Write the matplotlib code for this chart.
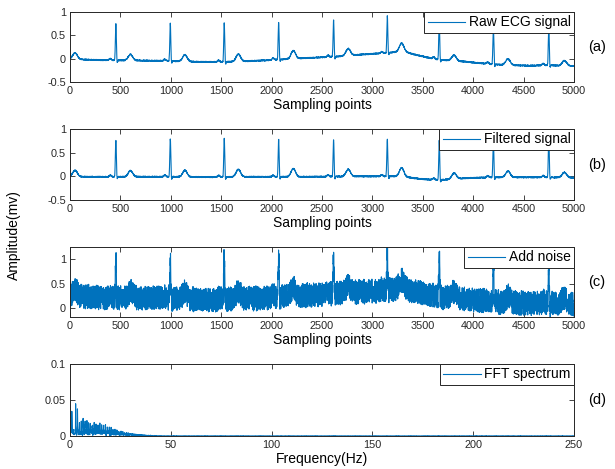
import numpy as np
import matplotlib
matplotlib.use("Agg")
import matplotlib.pyplot as plt
from matplotlib.ticker import FormatStrFormatter

plt.rcParams['font.family'] = ['Liberation Sans', 'DejaVu Sans']
plt.rcParams['axes.unicode_minus'] = False

# ---------------- data ----------------
fs = 500
n_samples = 5000
# R peaks (sample index) and their heights above baseline
r_peaks = [455, 995, 1530, 2070, 2615, 3148, 3663, 4200, 4750]
r_amp = [0.78, 0.81, 0.83, 0.80, 0.78, 0.79, 0.83, 0.80, 0.82]
# T waves (sample index) and heights above baseline
t_peaks = [50, 600, 1140, 1670, 2215, 2760, 3290, 3810, 4345, 4905]
t_amp = [0.13, 0.13, 0.14, 0.16, 0.17, 0.15, 0.18, 0.12, 0.13, 0.11]
# slow baseline of the raw record
base_x = [0, 150, 300, 700, 1000, 1300, 1520, 1800, 2060, 2300, 2600, 2900,
          3130, 3300, 3450, 3650, 3900, 4190, 4500, 4740, 5000]
raw_base = [0.0, -0.02, -0.03, -0.04, -0.05, -0.07, -0.07, -0.05, -0.02, 0.01,
            0.04, 0.09, 0.12, 0.16, 0.07, -0.02, -0.06, -0.12, -0.15, -0.14, -0.16]
filt_base = [0.0, -0.01, -0.01, -0.01, -0.01, -0.015, -0.015, -0.01, -0.01, -0.01,
             -0.005, 0.0, 0.0, 0.0, -0.05, -0.08, -0.04, -0.02, -0.02, -0.02, -0.03]
noise_span = 0.5          # height of the additive noise band in (c)
ripple_span = 0.025       # small measurement ripple on the traces

labels = ['Raw ECG signal', 'Filtered signal', 'Add noise', 'FFT spectrum']
tags = ['(a)', '(b)', '(c)', '(d)']
xticks_time = [0, 500, 1000, 1500, 2000, 2500, 3000, 3500, 4000, 4500, 5000]
yticks_ecg = [-0.5, 0, 0.5, 1]
yticks_noise = [0, 0.5, 1]
xticks_freq = [0, 50, 100, 150, 200, 250]
yticks_freq = [0, 0.05, 0.1]

# ---------------- build traces ----------------
n = np.arange(n_samples)
gen = np.random.default_rng(3)


def g(center, amp, sigma):
    return amp * np.exp(-0.5 * ((n - center) / sigma) ** 2)


def smooth_base(vals):
    b = np.interp(n, base_x, vals)
    w = np.hanning(151)
    w /= w.sum()
    pad = np.pad(b, 75, mode='edge')
    return np.convolve(pad, w, mode='valid')


beats = np.zeros(n_samples)
for rp, ra in zip(r_peaks, r_amp):
    beats += g(rp - 55, 0.035, 10) + g(rp - 9, -0.03, 3) + g(rp, ra, 5) + g(rp + 11, -0.07, 4.5)
for tp, ta in zip(t_peaks, t_amp):
    beats += g(tp, ta, 22)

ripple1 = ripple_span * (gen.random(n_samples) - 0.5)
ripple2 = ripple_span * (gen.random(n_samples) - 0.5)
raw = beats + smooth_base(raw_base) + ripple1
filt = beats + smooth_base(filt_base) + ripple2
noisy = raw + noise_span * gen.random(n_samples)

freqs = np.arange(n_samples // 2 + 1) * fs / n_samples
spec = 2 * np.abs(np.fft.rfft(filt)) / n_samples

# ---------------- figure ----------------
blue = '#0072BD'
dark = '#262626'
fig = plt.figure(figsize=(6.15, 4.69), dpi=100)
L, W = 70 / 615, 504 / 615
rects = [(12, 82), (129, 200), (247, 317), (364, 436)]
axes = []
for top, bot in rects:
    axes.append(fig.add_axes([L, 1 - bot / 469, W, (bot - top) / 469]))

series = [(n, raw), (n, filt), (n, noisy), (freqs, spec)]
for i, ax in enumerate(axes):
    x, y = series[i]
    ax.plot(x, y, color=blue, lw=0.8, label=labels[i])
    ax.tick_params(direction='in', top=True, right=True, length=3.5, width=0.6,
                   labelsize=7.8, colors=dark, pad=3)
    for s in ax.spines.values():
        s.set_color(dark)
        s.set_linewidth(0.7)
    leg = ax.legend(loc='upper right', borderaxespad=0, fancybox=False,
                    edgecolor=dark, framealpha=1, fontsize=10, handlelength=2.7,
                    handletextpad=0.25, borderpad=0.25)
    leg.get_frame().set_linewidth(0.7)
    ax.text(1.046, 0.5, tags[i], transform=ax.transAxes, ha='center', va='center',
            fontsize=10.5, color='black')

for ax in axes[:3]:
    ax.set_xlim(0, 5000)
    ax.set_xticks(xticks_time)
    ax.set_xlabel('Sampling points', fontsize=10, labelpad=1)
for ax in axes[:2]:
    ax.set_ylim(-0.5, 1)
    ax.set_yticks(yticks_ecg)
axes[2].set_ylim(-0.18, 1.25)
axes[2].set_yticks(yticks_noise)
axes[3].set_xlim(0, 250)
axes[3].set_ylim(0, 0.1)
axes[3].set_xticks(xticks_freq)
axes[3].set_yticks(yticks_freq)
axes[3].set_xlabel('Frequency(Hz)', fontsize=10, labelpad=1)
for ax in axes:
    ax.yaxis.set_major_formatter(FormatStrFormatter('%g'))

fig.text(14 / 615, 1 - 235 / 469, 'Amplitude(mv)', rotation=90, ha='center',
         va='center', fontsize=10)

fig.savefig('out.png', dpi=100)
